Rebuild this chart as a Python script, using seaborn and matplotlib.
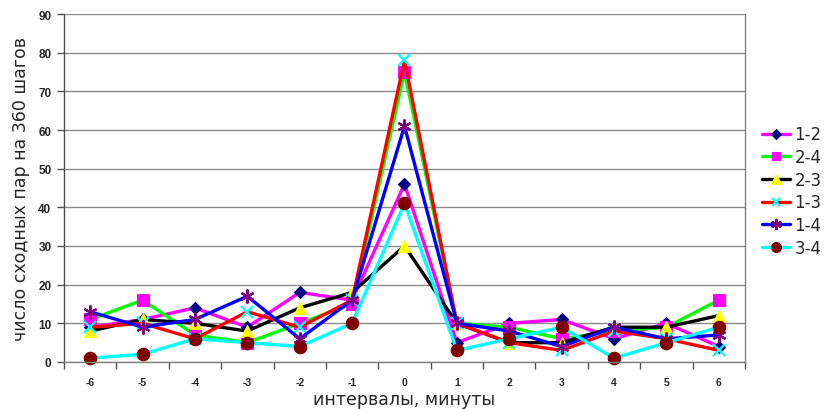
"""Recreate the 'similar pairs per interval' line chart."""

import matplotlib

matplotlib.use("Agg")

import matplotlib.pyplot as plt
import pandas as pd
import seaborn as sns
from matplotlib.ticker import MultipleLocator

# интервалы, минуты
intervals = [-6, -5, -4, -3, -2, -1, 0, 1, 2, 3, 4, 5, 6]

pair_1_2 = [9, 11, 14, 9, 18, 16, 46, 5, 10, 11, 6, 10, 4]
pair_2_4 = [11, 16, 7, 5, 10, 15, 75, 10, 9, 6, 8, 9, 16]
pair_2_3 = [8, 11, 10, 8, 14, 18, 30, 10, 5, 5, 9, 9, 12]
pair_1_3 = [9, 10, 6, 13, 9, 16, 78, 10, 5, 3, 8, 6, 3]
pair_1_4 = [13, 9, 11, 17, 6, 16, 61, 10, 8, 4, 9, 6, 7]
pair_3_4 = [1, 2, 6, 5, 4, 10, 41, 3, 6, 9, 1, 5, 9]

series_names = ["1-2", "2-4", "2-3", "1-3", "1-4", "3-4"]
series_values = [pair_1_2, pair_2_4, pair_2_3, pair_1_3, pair_1_4, pair_3_4]

# стиль каждой серии: цвет линии, маркер, цвет маркера, размер
styles = {
    "1-2": ("#FF00FF", "D", "#000080", 6.5),
    "2-4": ("#00FF00", "s", "#FF00FF", 8),
    "2-3": ("#000000", "^", "#FFFF00", 8.5),
    "1-3": ("#FF0000", "x", "#00FFFF", 8),
    "1-4": ("#0000FF", (6, 2, 0), "#800080", 10),
    "3-4": ("#00FFFF", "o", "#800000", 9),
}

frame = pd.DataFrame(
    {
        "interval": intervals * len(series_names),
        "count": [v for values in series_values for v in values],
        "pair": [name for name in series_names for _ in intervals],
    }
)

sns.set_theme(style="white")
plt.rcParams["font.family"] = ["DejaVu Sans"]
plt.rcParams["axes.unicode_minus"] = False

fig = plt.figure(figsize=(8.28, 4.10), dpi=100)
ax = fig.add_axes([64 / 828, 1 - 363 / 410, (745 - 64) / 828, (363 - 15) / 410])

for name in series_names:
    line_color, marker, marker_color, msize = styles[name]
    sub = frame[frame["pair"] == name]
    edge_width = 1.6 if marker in ("x", (6, 2, 0)) else 0.8
    sns.lineplot(
        data=sub,
        x="interval",
        y="count",
        color=line_color,
        linewidth=2.4,
        marker=marker,
        markersize=msize,
        markerfacecolor=marker_color,
        markeredgecolor=marker_color,
        markeredgewidth=edge_width,
        label=name,
        ax=ax,
        clip_on=False,
    )

ax.set_xlim(-6.5, 6.5)
ax.set_ylim(0, 90)
ax.xaxis.set_major_locator(MultipleLocator(1))
ax.xaxis.set_minor_locator(MultipleLocator(1, offset=0.5))
ax.yaxis.set_major_locator(MultipleLocator(10))

ax.yaxis.grid(True, color="#8c8c8c", linewidth=1.0)
ax.xaxis.grid(False)
ax.set_axisbelow(True)

for side in ("left", "bottom", "right"):
    ax.spines[side].set_visible(True)
    ax.spines[side].set_color("#808080")
    ax.spines[side].set_linewidth(1.0)
ax.spines["left"].set_color("#505050")
ax.spines["top"].set_visible(False)

ax.tick_params(axis="x", which="major", length=0, pad=11)
ax.tick_params(axis="x", which="minor", length=5, color="#505050", width=1, direction="out", bottom=True)
ax.tick_params(axis="y", length=5, color="#505050", width=1, direction="out", left=True, pad=4)

for label in ax.get_xticklabels():
    label.set_fontfamily("Liberation Sans")
    label.set_fontweight("bold")
    label.set_fontsize(7.5)
for label in ax.get_yticklabels():
    label.set_fontfamily("Liberation Sans")
    label.set_fontweight("bold")
    label.set_fontsize(8.5)

ax.set_xlabel("интервалы, минуты", fontsize=12.5, labelpad=2)
ax.set_ylabel("число сходных пар на 360 шагов", fontsize=12.5, labelpad=6)

ax.legend(
    loc="center left",
    bbox_to_anchor=(762 / 828, 1 - 192 / 410),
    bbox_transform=fig.transFigure,
    frameon=False,
    fontsize=12,
    markerscale=0.8,
    handlelength=1.7,
    handletextpad=0.25,
    labelspacing=0.28,
    borderaxespad=0,
    borderpad=0,
)

fig.savefig("out.png", dpi=100)
plt.close(fig)
